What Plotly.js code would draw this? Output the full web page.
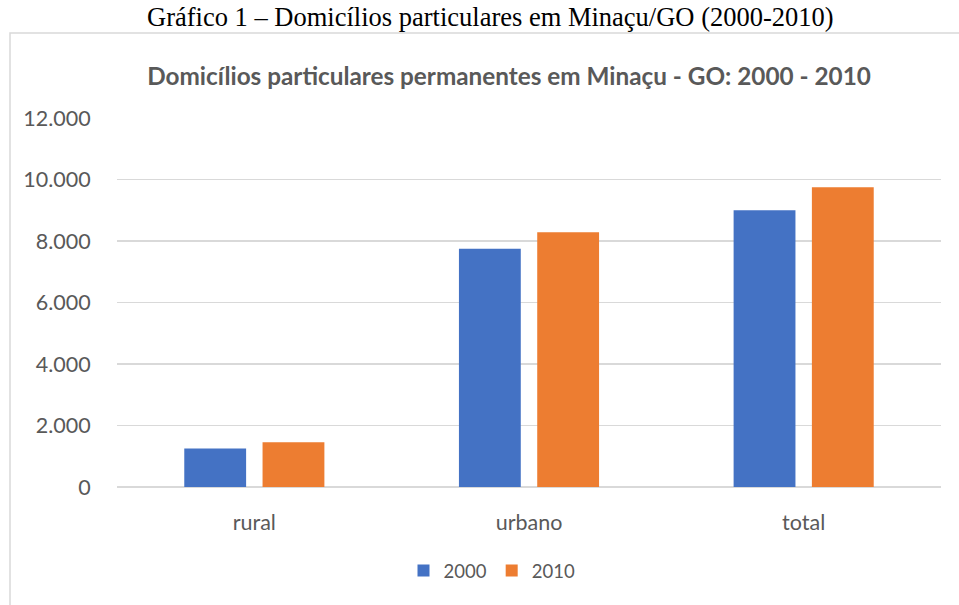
<!DOCTYPE html>
<html>
<head>
<meta charset="utf-8">
<script src="https://cdn.plot.ly/plotly-3.0.1.min.js"></script>
<style>
  html, body { margin: 0; padding: 0; background: #ffffff; }
  #chart { width: 959px; height: 605px; }
</style>
</head>
<body>
<div id="chart"></div>
<script>
// ---- data ----
const categories = ['rural', 'urbano', 'total'];
const seriesNames = ['2000', '2010'];
const values2000 = [1250, 7750, 9000];
const values2010 = [1455, 8285, 9745];
const yTickVals = [0, 2000, 4000, 6000, 8000, 10000, 12000];

const captionText = 'Gráfico 1 – Domicílios particulares em Minaçu/GO (2000-2010)';
const chartTitle = 'Domicílios particulares permanentes em Minaçu - GO: 2000 - 2010';

// ---- layout geometry ----
const W = 959, H = 605;
const M = { l: 117, r: 18, t: 118, b: 118, pad: 0 };
const plotW = W - M.l - M.r;
const plotH = H - M.t - M.b;
const px2x = p => (p - M.l) / plotW;
const px2y = p => (H - M.b - p) / plotH;

const gray = '#595959';
const gridColor = '#d9d9d9';
const font = 'Lato, "Open Sans", sans-serif';

const traces = [
  { type: 'bar', name: seriesNames[0], x: categories, y: values2000,
    marker: { color: '#4472C4' }, hoverinfo: 'y' },
  { type: 'bar', name: seriesNames[1], x: categories, y: values2010,
    marker: { color: '#ED7D31' }, hoverinfo: 'y' }
];

const layout = {
  width: W, height: H,
  margin: M,
  paper_bgcolor: '#ffffff',
  plot_bgcolor: '#ffffff',
  separators: ',.',
  font: { family: font, color: gray },
  barmode: 'group',
  bargap: 0.43,
  bargroupgap: 0.21,
  showlegend: true,
  title: {
    text: '<b>' + chartTitle + '</b>',
    font: { family: font, size: 24.3, color: gray },
    xref: 'container', x: 509 / W, xanchor: 'center',
    yref: 'container', y: 1 - 76 / H, yanchor: 'middle'
  },
  xaxis: {
    type: 'category',
    showgrid: false, zeroline: false, showline: false,
    ticks: 'outside', ticklen: 16, tickcolor: 'rgba(0,0,0,0)',
    tickfont: { family: font, size: 21.5, color: gray }
  },
  yaxis: {
    range: [0, 12000],
    tickvals: yTickVals,
    tickformat: ',d',
    showgrid: true, gridcolor: gridColor, gridwidth: 1.4,
    zeroline: true, zerolinecolor: gridColor, zerolinewidth: 1.6,
    showline: false,
    ticks: 'outside', ticklen: 21, tickcolor: 'rgba(0,0,0,0)',
    tickfont: { family: font, size: 21.5, color: gray }
  },
  legend: {
    orientation: 'h',
    xref: 'paper', x: px2x(492), xanchor: 'center',
    yref: 'paper', y: px2y(571), yanchor: 'middle',
    font: { family: font, size: 18.5, color: gray },
    itemwidth: 30,
    bgcolor: 'rgba(0,0,0,0)'
  },
  annotations: [{
    text: captionText,
    xref: 'paper', x: px2x(490), xanchor: 'center',
    yref: 'paper', y: px2y(17), yanchor: 'middle',
    showarrow: false,
    font: { family: '"Liberation Serif", "Times New Roman", serif', size: 26.5, color: '#000000' }
  }],
  shapes: [{
    type: 'rect', xref: 'paper', yref: 'paper',
    x0: px2x(10), x1: px2x(975), y0: px2y(33), y1: px2y(620),
    line: { color: gridColor, width: 1.5 }, fillcolor: 'rgba(0,0,0,0)', layer: 'below'
  }]
};

Plotly.newPlot('chart', traces, layout, { displayModeBar: false, staticPlot: true });
</script>
</body>
</html>
